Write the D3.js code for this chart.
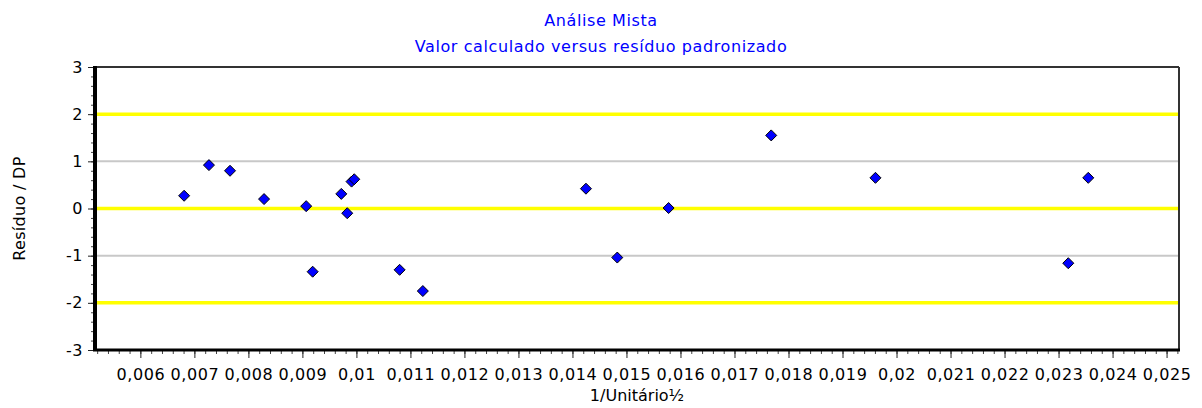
<!DOCTYPE html>
<html>
<head>
<meta charset="utf-8">
<script src="https://cdn.jsdelivr.net/npm/d3@7"></script>
<style>
  body { margin: 0; background: #fff; }
  text { font-family: "DejaVu Sans", sans-serif; }
</style>
</head>
<body>
<svg id="chart" width="1202" height="408"></svg>
<script>
const width = 1202;
const height = 408;

// calculated value (1/Unitário½) and standardized residual
const xValues = [0.00681, 0.00727, 0.00766, 0.00829, 0.00907, 0.00919, 0.00972, 0.00983, 0.00991, 0.00996,
    0.01080, 0.01123, 0.01425, 0.01483, 0.01578, 0.01768, 0.01961, 0.02318, 0.02355];
const residuals = [0.27, 0.92, 0.80, 0.20, 0.05, -1.34, 0.31, -0.10, 0.57, 0.62,
    -1.30, -1.75, 0.42, -1.04, 0.01, 1.55, 0.65, -1.16, 0.65];

const xTicks = d3.range(6, 26).map(d => d / 1000);
const xMinorTicks = d3.range(26, 127).map(d => d / 5000);
const yTicks = [-3, -2, -1, 0, 1, 2, 3];
const yMinorTicks = d3.range(-15, 16).map(d => d / 5);
const limitLines = [-2, 0, 2];
const gridLines = [-1, 1];

const titleLines = ["Análise Mista", "Valor calculado versus resíduo padronizado"];

const margin = { left: 95, right: 1179, top: 67, bottom: 350 };

const svg = d3.select("#chart");

const x = d3.scaleLinear().domain([0.00516, 0.02523]).range([margin.left, margin.right]);
const y = d3.scaleLinear().domain([-3, 3]).range([margin.bottom, margin.top]);

const fmt = d => String(+d.toFixed(3)).replace(".", ",");

// title
svg.selectAll("text.title")
    .data(titleLines)
    .enter()
    .append("text")
    .attr("class", "title")
    .attr("x", 601)
    .attr("y", (d, i) => 26 + i * 26)
    .attr("text-anchor", "middle")
    .attr("font-size", "16px")
    .attr("letter-spacing", "0.6px")
    .attr("fill", "#0000ff")
    .text(d => d);

// grid lines
svg.selectAll("line.grid")
    .data(gridLines)
    .enter()
    .append("line")
    .attr("x1", margin.left)
    .attr("x2", margin.right)
    .attr("y1", d => y(d))
    .attr("y2", d => y(d))
    .attr("stroke", "#c8c8c8")
    .attr("stroke-width", 2);

svg.selectAll("line.limit")
    .data(limitLines)
    .enter()
    .append("line")
    .attr("x1", margin.left)
    .attr("x2", margin.right)
    .attr("y1", d => y(d))
    .attr("y2", d => y(d))
    .attr("stroke", "#ffff00")
    .attr("stroke-width", 3.5);

// minor ticks
svg.append("g")
    .attr("transform", `translate(0,${margin.bottom})`)
    .call(d3.axisBottom(x).tickValues(xMinorTicks.filter(d => d >= x.domain()[0] && d <= x.domain()[1])).tickSize(4).tickFormat(""))
    .call(g => g.select(".domain").remove())
    .selectAll("line").attr("stroke", "#444");

svg.append("g")
    .attr("transform", `translate(${margin.left},0)`)
    .call(d3.axisLeft(y).tickValues(yMinorTicks).tickSize(4).tickFormat(""))
    .call(g => g.select(".domain").remove())
    .selectAll("line").attr("stroke", "#444");

// major ticks and labels
const xAxis = svg.append("g")
    .attr("transform", `translate(0,${margin.bottom})`)
    .call(d3.axisBottom(x).tickValues(xTicks).tickSize(8).tickPadding(11).tickFormat(fmt));
xAxis.select(".domain").remove();
xAxis.selectAll("line").attr("stroke", "#222");
xAxis.selectAll("text")
    .attr("font-family", "DejaVu Sans")
    .attr("font-size", "16px")
    .attr("letter-spacing", "0.6px")
    .attr("fill", "#000");

const yAxis = svg.append("g")
    .attr("transform", `translate(${margin.left},0)`)
    .call(d3.axisLeft(y).tickValues(yTicks).tickSize(7).tickPadding(5).tickFormat(d => d));
yAxis.select(".domain").remove();
yAxis.selectAll("line").attr("stroke", "#222");
yAxis.selectAll("text")
    .attr("font-family", "DejaVu Sans")
    .attr("font-size", "16px")
    .attr("letter-spacing", "0.5px")
    .attr("fill", "#000");

// frame
svg.append("line")
    .attr("x1", margin.left).attr("x2", margin.right)
    .attr("y1", margin.top).attr("y2", margin.top)
    .attr("stroke", "#333").attr("stroke-width", 2);
svg.append("line")
    .attr("x1", margin.right).attr("x2", margin.right)
    .attr("y1", margin.top).attr("y2", margin.bottom)
    .attr("stroke", "#333").attr("stroke-width", 2);
svg.append("line")
    .attr("x1", margin.left - 2).attr("x2", margin.right + 1)
    .attr("y1", margin.bottom).attr("y2", margin.bottom)
    .attr("stroke", "#000").attr("stroke-width", 3);
svg.append("line")
    .attr("x1", margin.left).attr("x2", margin.left)
    .attr("y1", margin.top - 1).attr("y2", margin.bottom + 1)
    .attr("stroke", "#000").attr("stroke-width", 4);

// axis titles
svg.append("text")
    .attr("x", (margin.left + margin.right) / 2)
    .attr("y", 401)
    .attr("text-anchor", "middle")
    .attr("font-size", "16px")
    .text("1/Unitário½");

svg.append("text")
    .attr("transform", `translate(25,${(margin.top + margin.bottom) / 2}) rotate(-90)`)
    .attr("text-anchor", "middle")
    .attr("font-size", "16px")
    .attr("letter-spacing", "0.3px")
    .text("Resíduo / DP");

// points
const diamond = "M0,-5.5L5.5,0L0,5.5L-5.5,0Z";
svg.selectAll("path.pt")
    .data(xValues.map((d, i) => [d, residuals[i]]))
    .enter()
    .append("path")
    .attr("class", "pt")
    .attr("d", diamond)
    .attr("transform", d => `translate(${x(d[0])},${y(d[1])})`)
    .attr("fill", "#0000ff")
    .attr("stroke", "#000")
    .attr("stroke-width", 1);
</script>
</body>
</html>
